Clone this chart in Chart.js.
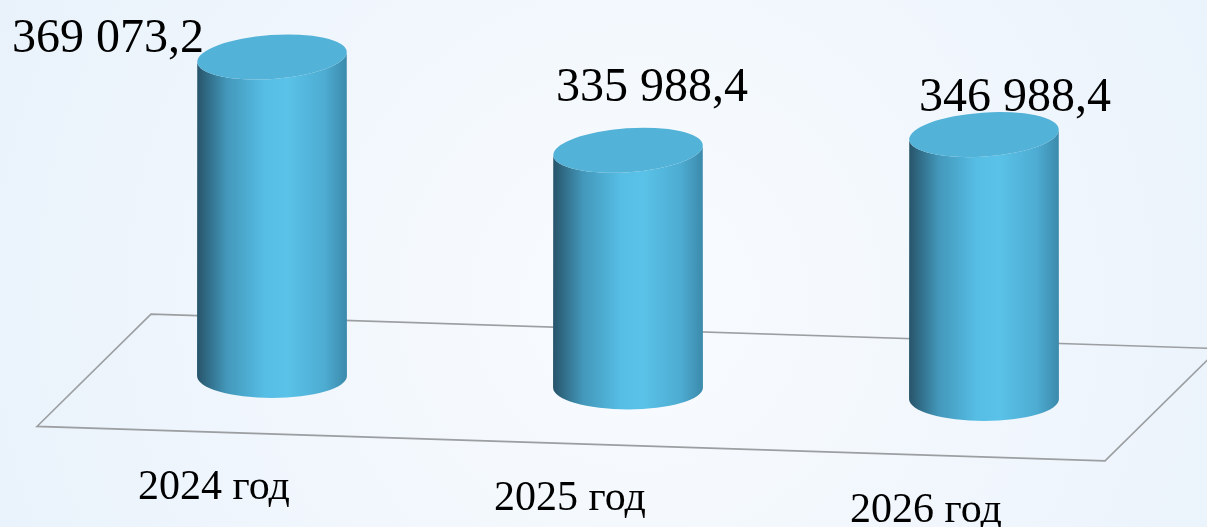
<!DOCTYPE html>
<html>
<head>
<meta charset="utf-8">
<script src="https://cdn.jsdelivr.net/npm/chart.js@4/dist/chart.umd.min.js"></script>
<style>
  html, body { margin: 0; padding: 0; background: #eef5fc; }
  #wrap { width: 1207px; height: 527px; }
</style>
</head>
<body>
<div id="wrap"><canvas id="budget-chart"></canvas></div>
<script>
// values
var years = ["2024 год", "2025 год", "2026 год"];
var amounts = [369073.2, 335988.4, 346988.4];
var amountLabels = ["369 073,2", "335 988,4", "346 988,4"];
var axisMin = 240000;
var axisMax = 380000;

// perspective look of the original 3D chart
var tilt = 0.0323;          // floor slopes down to the right
var floorDepth = 58;        // half depth of the floor plane
var floorSkew = 57;
var ellipseRy = 22;
var valueOffsets = [[-164, -5], [24, -49], [31, -24]];

function shiftY(x, x0) { return (x - x0) * tilt; }

var background = {
    id: 'background',
    beforeDraw: function(chart) {
        var c = chart.ctx, w = chart.width, h = chart.height;
        var g = c.createRadialGradient(640, 300, 40, 640, 300, 700);
        g.addColorStop(0, '#f8fbfe');
        g.addColorStop(1, '#e9f2fb');
        c.save();
        c.fillStyle = g;
        c.fillRect(0, 0, w, h);
        c.restore();
    }
};

var cylinders = {
    id: 'cylinders',
    beforeDatasetsDraw: function(chart) {
        var c = chart.ctx, a = chart.chartArea;
        var bars = chart.getDatasetMeta(0).data;
        var x0 = bars[0].x, base = chart.scales.y.getPixelForValue(axisMin);
        function pt(x, dy) { return [x, base + dy + shiftY(x, x0)]; }
        var bl = pt(a.left + floorSkew, -floorDepth);
        var br = pt(a.right + floorSkew, -floorDepth);
        var fr = pt(a.right - floorSkew, floorDepth);
        var fl = pt(a.left - floorSkew, floorDepth);
        c.save();
        c.strokeStyle = '#9c9fa2';
        c.lineWidth = 1.6;
        c.beginPath();
        c.moveTo(bl[0], bl[1]);
        c.lineTo(br[0], br[1]);
        c.lineTo(fr[0], fr[1]);
        c.lineTo(fl[0], fl[1]);
        c.closePath();
        c.stroke();
        c.restore();
    },
    afterDatasetsDraw: function(chart) {
        var c = chart.ctx;
        var bars = chart.getDatasetMeta(0).data;
        var x0 = bars[0].x;
        var basePx = chart.scales.y.getPixelForValue(axisMin);
        var rot = -0.07;
        bars.forEach(function(bar, i) {
            var x = bar.x, rx = bar.width / 2;
            var dy = shiftY(x, x0);
            var yt = bar.y + dy, yb = basePx + dy;
            var ex = rx * Math.cos(rot), ey = rx * Math.sin(rot);
            var g = c.createLinearGradient(x - rx, 0, x + rx, 0);
            g.addColorStop(0, '#27546a');
            g.addColorStop(0.2, '#4398bb');
            g.addColorStop(0.45, '#56bde4');
            g.addColorStop(0.6, '#5ac2e8');
            g.addColorStop(0.85, '#4eacd2');
            g.addColorStop(1, '#3b8aab');
            c.save();
            c.fillStyle = g;
            c.beginPath();
            c.moveTo(x - ex, yt - ey);
            c.lineTo(x - rx, yb);
            c.ellipse(x, yb, rx, ellipseRy, 0, Math.PI, 0, true);
            c.lineTo(x + ex, yt + ey);
            c.ellipse(x, yt, rx, ellipseRy, rot, 0, Math.PI, false);
            c.closePath();
            c.fill();
            c.fillStyle = '#53b2d7';
            c.beginPath();
            c.ellipse(x, yt, rx, ellipseRy, rot, 0, Math.PI * 2);
            c.fill();

            // value label
            c.fillStyle = '#000';
            c.font = '48px "Liberation Serif", "Times New Roman", serif';
            c.textAlign = 'center';
            c.textBaseline = 'alphabetic';
            c.fillText(amountLabels[i], x + valueOffsets[i][0], yt + valueOffsets[i][1]);

            // category label in front of the floor
            c.font = '42px "Liberation Serif", "Times New Roman", serif';
            c.fillText(years[i], x - 58, yb + 123);
            c.restore();
        });
    }
};

var ctx = document.getElementById('budget-chart').getContext('2d');
var budgetChart = new Chart(ctx, {
    type: 'bar',
    data: {
        labels: years,
        datasets: [{
            data: amounts,
            base: axisMin,
            backgroundColor: 'rgba(0,0,0,0)',
            barPercentage: 0.421,
            categoryPercentage: 1
        }]
    },
    options: {
        responsive: true,
        maintainAspectRatio: false,
        animation: false,
        layout: { padding: { left: 94, right: 45, top: 30, bottom: 151 } },
        scales: {
            x: { display: false },
            y: { display: false, min: axisMin, max: axisMax }
        },
        plugins: {
            legend: { display: false },
            tooltip: { enabled: false }
        }
    },
    plugins: [background, cylinders]
});
</script>
</body>
</html>
